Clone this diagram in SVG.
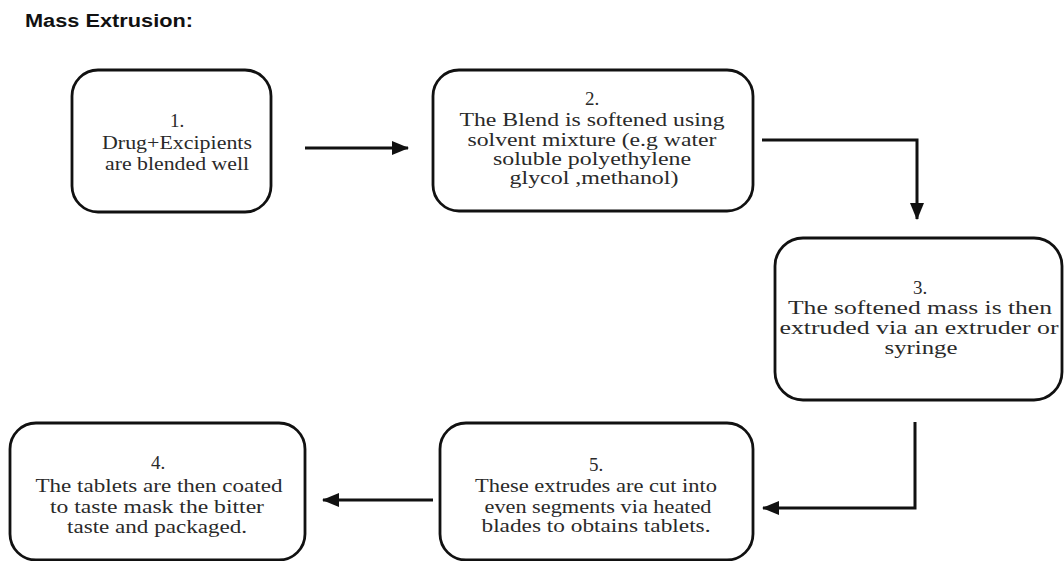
<svg xmlns="http://www.w3.org/2000/svg" width="1064" height="561" viewBox="0 0 1064 561">
<style>
.box{fill:#fff;stroke:#111;stroke-width:2.8}
.t{font-family:"Liberation Serif","Times New Roman",serif;font-size:19px;fill:#2a2a2a;text-anchor:middle}
.c{fill:none;stroke:#111;stroke-width:3}
.title{font-family:"Liberation Sans",Arial,sans-serif;font-weight:bold;font-size:18px;fill:#111}
</style>
<defs>
<marker id="ah" markerUnits="userSpaceOnUse" markerWidth="18" markerHeight="14" refX="16" refY="7" orient="auto">
<path d="M0,0 L17,7 L0,14 Z" fill="#111"/>
</marker>
</defs>
<rect width="1064" height="561" fill="#fff"/>
<text class="title" x="25" y="27" textLength="168" lengthAdjust="spacingAndGlyphs">Mass Extrusion:</text>

<g id="connectors">
<path class="c" d="M305,148 H408" marker-end="url(#ah)"/>
<path class="c" d="M762,140 H917 V219" marker-end="url(#ah)"/>
<path class="c" d="M915,422 V508 H763" marker-end="url(#ah)"/>
<path class="c" d="M433,500 H323" marker-end="url(#ah)"/>
</g>

<g id="node1">
<rect class="box" x="72" y="70" width="199" height="142" rx="26"/>
<text class="t" x="177" y="127">1.</text>
<text class="t" x="177" y="149" textLength="150" lengthAdjust="spacingAndGlyphs">Drug+Excipients</text>
<text class="t" x="177" y="170" textLength="144" lengthAdjust="spacingAndGlyphs">are blended well</text>
</g>

<g id="node2">
<rect class="box" x="433" y="70" width="320" height="141" rx="26"/>
<text class="t" x="592" y="105">2.</text>
<text class="t" x="592" y="126" textLength="265" lengthAdjust="spacingAndGlyphs">The Blend is softened using</text>
<text class="t" x="592" y="145.5" textLength="249" lengthAdjust="spacingAndGlyphs">solvent mixture (e.g water</text>
<text class="t" x="592" y="165" textLength="198" lengthAdjust="spacingAndGlyphs">soluble polyethylene</text>
<text class="t" x="594" y="184" textLength="169" lengthAdjust="spacingAndGlyphs">glycol ,methanol)</text>
</g>

<g id="node3">
<rect class="box" x="775" y="238" width="287" height="162" rx="28"/>
<text class="t" x="920" y="294">3.</text>
<text class="t" x="920" y="314" textLength="264" lengthAdjust="spacingAndGlyphs">The softened mass is then</text>
<text class="t" x="919" y="334" textLength="279" lengthAdjust="spacingAndGlyphs">extruded via an extruder or</text>
<text class="t" x="921" y="354" textLength="73" lengthAdjust="spacingAndGlyphs">syringe</text>
</g>

<g id="node4">
<rect class="box" x="10" y="423" width="295" height="137" rx="26"/>
<text class="t" x="158" y="469">4.</text>
<text class="t" x="159" y="492" textLength="247" lengthAdjust="spacingAndGlyphs">The tablets are then coated</text>
<text class="t" x="157" y="513" textLength="214" lengthAdjust="spacingAndGlyphs">to taste mask the bitter</text>
<text class="t" x="157" y="533" textLength="180" lengthAdjust="spacingAndGlyphs">taste and packaged.</text>
</g>

<g id="node5">
<rect class="box" x="440" y="423" width="313" height="137" rx="26"/>
<text class="t" x="596" y="471">5.</text>
<text class="t" x="596" y="492" textLength="242" lengthAdjust="spacingAndGlyphs">These extrudes are cut into</text>
<text class="t" x="598" y="513" textLength="227" lengthAdjust="spacingAndGlyphs">even segments via heated</text>
<text class="t" x="596" y="532" textLength="229" lengthAdjust="spacingAndGlyphs">blades to obtains tablets.</text>
</g>
</svg>
